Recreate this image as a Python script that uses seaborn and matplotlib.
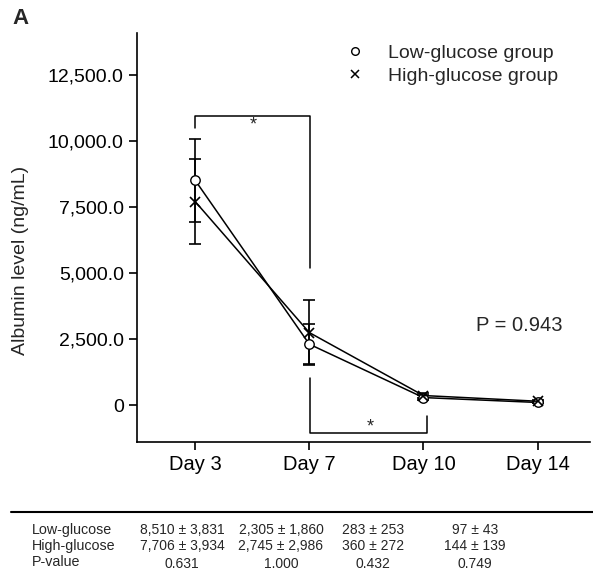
import numpy as np
import pandas as pd
import matplotlib.pyplot as plt
import seaborn as sns
from matplotlib.lines import Line2D

# data
days = ["Day 3", "Day 7", "Day 10", "Day 14"]
low_mean = [8510, 2305, 283, 97]
high_mean = [7706, 2745, 360, 144]
# error bars as drawn
low_err = [1560, 760, 100, 20]
high_err = [1600, 1220, 110, 55]
low_text = ["8,510 \u00b1 3,831", "2,305 \u00b1 1,860", "283 \u00b1 253", "97 \u00b1 43"]
high_text = ["7,706 \u00b1 3,934", "2,745 \u00b1 2,986", "360 \u00b1 272", "144 \u00b1 139"]
p_values = ["0.631", "1.000", "0.432", "0.749"]
y_ticks = [0, 2500, 5000, 7500, 10000, 12500]
y_tick_labels = ["0", "2,500.0", "5,000.0", "7,500.0", "10,000.0", "12,500.0"]

sns.set_style("ticks")
plt.rcParams['font.family'] = ['Liberation Sans', 'DejaVu Sans']

W, H = 593, 578
fig = plt.figure(figsize=(W / 100, H / 100), dpi=100)
ax = fig.add_axes([137 / W, 1 - 442 / H, (590 - 137) / W, (442 - 33) / H])

pos = np.arange(len(days))
df = pd.DataFrame({"pos": np.concatenate([pos, pos]),
                   "value": low_mean + high_mean,
                   "group": ["Low"] * 4 + ["High"] * 4})

sns.lineplot(data=df[df.group == "Low"], x="pos", y="value", color="black",
             marker="o", markersize=6.8, markerfacecolor="white",
             markeredgecolor="black", markeredgewidth=1.0, lw=1.1, ax=ax, zorder=3)
sns.lineplot(data=df[df.group == "High"], x="pos", y="value", color="black",
             marker="x", markersize=7.5, markeredgecolor="black",
             markeredgewidth=1.2, lw=1.1, ax=ax, zorder=3)
ax.errorbar(pos, low_mean, yerr=low_err, fmt="none", ecolor="black",
            elinewidth=1.2, capsize=4.3, capthick=1.2, zorder=2)
ax.errorbar(pos, high_mean, yerr=high_err, fmt="none", ecolor="black",
            elinewidth=1.2, capsize=4.3, capthick=1.2, zorder=2)

# significance brackets
ax.plot([0, 0, 1.01, 1.01], [10490, 10950, 10950, 5190], color="black", lw=1.1, clip_on=False)
ax.text(0.51, 10600, "*", ha="center", va="center", fontsize=13)
ax.plot([1.01, 1.01, 2.03, 2.03], [1020, -1060, -1060, -420], color="black", lw=1.1, clip_on=False)
ax.text(1.53, -830, "*", ha="center", va="center", fontsize=13)
ax.text(2.84, 3030, "P = 0.943", ha="center", va="center", fontsize=14.5)

ax.set_xlim(-0.51, 3.46)
ax.set_ylim(-1400, 14090)
ax.set_xticks(pos)
ax.set_xticklabels(days)
ax.set_yticks(y_ticks)
ax.set_yticklabels(y_tick_labels)
ax.tick_params(labelsize=14, length=6, width=1.2, color="black", labelcolor="black")
ax.tick_params(axis="x", labelsize=14.5)
ax.set_xlabel("")
ax.set_ylabel("Albumin level (ng/mL)", fontsize=14)
ax.yaxis.set_label_coords(-0.238, 0.445)
for s in ["top", "right"]:
    ax.spines[s].set_visible(False)
for s in ["left", "bottom"]:
    ax.spines[s].set_linewidth(1.2)
    ax.spines[s].set_color("black")

handles = [Line2D([], [], ls="none", marker="o", markersize=5.5, markerfacecolor="white",
                  markeredgecolor="black", markeredgewidth=1.0),
           Line2D([], [], ls="none", marker="x", markersize=6, markeredgecolor="black",
                  markeredgewidth=1.1)]
ax.legend(handles, ["Low-glucose group", "High-glucose group"], loc="upper right",
          bbox_to_anchor=(0.955, 1.0), frameon=False, fontsize=14,
          handletextpad=0.7, labelspacing=0.25, borderaxespad=0.2)

fig.text(12 / W, 1 - 18 / H, "A", fontsize=16, fontweight="bold", va="center", ha="left")

# table under the chart
fig.add_artist(Line2D([11 / W, 1], [1 - 512 / H] * 2, color="black", lw=1.5))
col_x = [182, 281, 373, 475]
row_y = [530, 546, 562]
rows = [("Low-glucose", low_text), ("High-glucose", high_text), ("P-value", p_values)]
for (label, vals), y in zip(rows, row_y):
    fig.text(32 / W, 1 - y / H, label, fontsize=10.3, va="center", ha="left")
    for x, v in zip(col_x, vals):
        fig.text(x / W, 1 - (y + (2 if label == "P-value" else 0)) / H, v,
                 fontsize=10, va="center", ha="center")

fig.savefig("out.png", dpi=100)
